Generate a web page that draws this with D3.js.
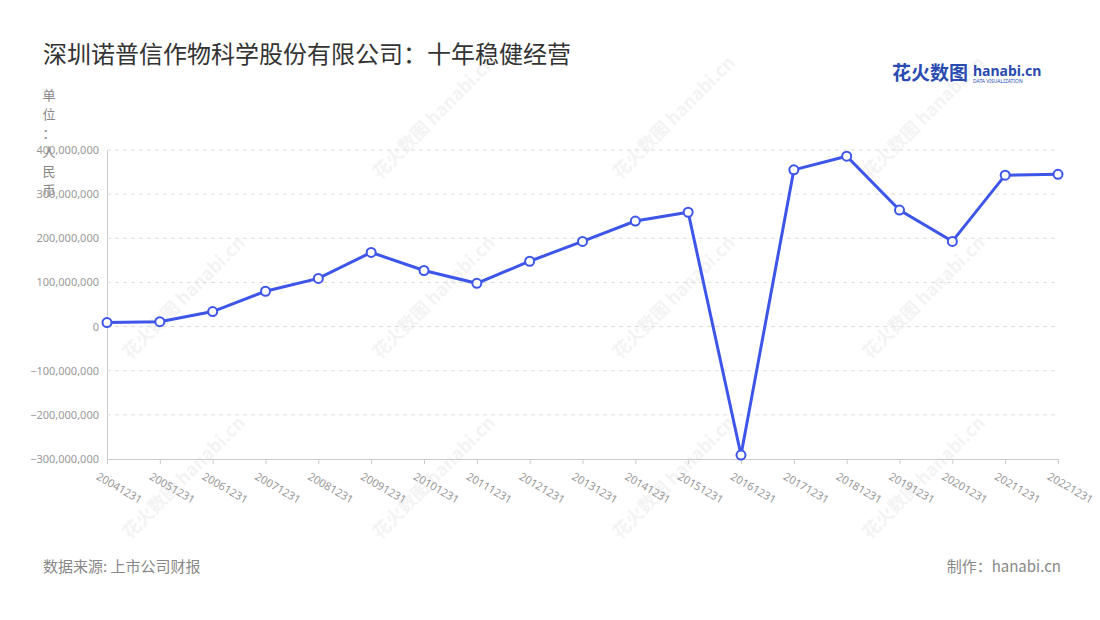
<!DOCTYPE html><html><head><meta charset="utf-8"><script src="https://cdn.jsdelivr.net/npm/d3@7"></script>
<style>body{margin:0;background:#fff;font-family:"Noto Sans CJK SC","Noto Sans",sans-serif}</style></head><body><svg id="c" width="1100" height="620"></svg>
<script>
const years=["20041231","20051231","20061231","20071231","20081231","20091231","20101231","20111231","20121231","20131231","20141231","20151231","20161231","20171231","20181231","20191231","20201231","20211231","20221231"];
const profit=[9e6,11e6,34e6,80e6,109e6,168e6,127e6,98e6,148e6,193e6,239e6,259e6,-291e6,355e6,386e6,264e6,193e6,343e6,345e6];
const yTicks=[-3e8,-2e8,-1e8,0,1e8,2e8,3e8,4e8];
const svg=d3.select("#c");
const f="'Noto Sans CJK SC',sans-serif";
const x=d3.scalePoint().domain(years).range([107,1058]);
const y=d3.scaleLinear().domain([-3e8,4e8]).range([459,150]);
svg.append("text").attr("x",43).attr("y",63).attr("font-size",24).attr("fill","#333").attr("font-family",f).text("深圳诺普信作物科学股份有限公司：十年稳健经营");
svg.append("text").attr("x",892).attr("y",80).attr("font-size",19).attr("font-weight","bold").attr("fill","#2a4bb0").attr("font-family",f).text("花火数图");
svg.append("text").attr("x",973).attr("y",76).attr("font-size",14).attr("font-weight","bold").attr("fill","#2a4bb0").attr("font-family","Noto Sans").text("hanabi.cn");
svg.append("text").attr("x",973).attr("y",83).attr("font-size",5).attr("fill","#2a4bb0").attr("font-family","Noto Sans").text("DATA VISUALIZATION");
[[380,180],[620,180],[870,180],[130,360],[380,360],[620,360],[870,360],[380,540],[620,540],[870,540],[130,540]].forEach(([a,b])=>{
 svg.append("text").attr("transform",`translate(${a},${b}) rotate(-45)`).attr("font-size",18).attr("font-weight","bold").attr("fill","#000").attr("opacity",0.045).attr("font-family",f).text("花火数图 hanabi.cn");});
const ya=d3.axisLeft(y).tickValues(yTicks).tickFormat(d3.format(",")).tickSize(0).tickPadding(8);
const g=svg.append("g").attr("transform","translate(107,0)").call(ya);
g.select(".domain").attr("stroke","#ccc");
g.selectAll("text").attr("fill","#999").attr("font-size",11).attr("font-family","Noto Sans");
svg.append("g").selectAll("line").data(yTicks.filter(d=>d!==-3e8)).join("line").attr("x1",107).attr("x2",1058).attr("y1",d=>y(d)).attr("y2",d=>y(d)).attr("stroke","#ddd").attr("stroke-dasharray","4,4");
const xa=d3.axisBottom(x).tickSize(5).tickSizeOuter(0);
const gx=svg.append("g").attr("transform","translate(0,459)").call(xa);
gx.selectAll("line,path").attr("stroke","#ccc");
gx.selectAll("text").attr("fill","#999").attr("font-size",11).attr("font-family","Noto Sans").attr("text-anchor","start").attr("transform","translate(-4,6) rotate(30)");
svg.append("text").attr("x",49).attr("y",100).attr("font-size",13).attr("fill","#888").attr("font-family",f).attr("text-anchor","middle").selectAll("tspan").data(["单","位","：","人","民","币"]).join("tspan").attr("x",49).attr("dy",(d,i)=>i?19:0).text(d=>d);
svg.append("path").datum(profit).attr("fill","none").attr("stroke","#3d55e8").attr("stroke-width",3).attr("d",d3.line().x((d,i)=>x(years[i])).y(d=>y(d)));
svg.selectAll("circle").data(profit).join("circle").attr("cx",(d,i)=>x(years[i])).attr("cy",d=>y(d)).attr("r",4.5).attr("fill","#fff").attr("stroke","#3d55e8").attr("stroke-width",2);
svg.append("text").attr("x",43).attr("y",572).attr("font-size",15).attr("fill","#888").attr("font-family",f).text("数据来源: 上市公司财报");
svg.append("text").attr("x",1061).attr("y",572).attr("text-anchor","end").attr("font-size",15).attr("fill","#888").attr("font-family",f).text("制作：hanabi.cn");
</script></body></html>
